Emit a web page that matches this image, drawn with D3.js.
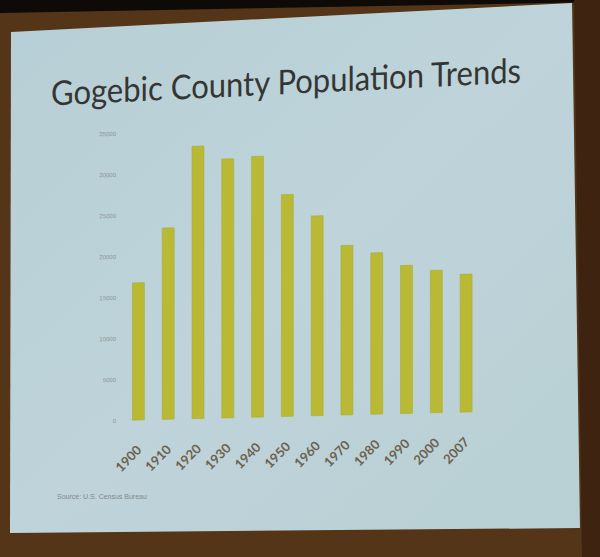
<!DOCTYPE html>
<html>
<head>
<meta charset="utf-8">
<script src="https://cdn.jsdelivr.net/npm/d3@7"></script>
<style>
  html, body { margin: 0; padding: 0; background: #553517; }
  svg { display: block; }
</style>
</head>
<body>
<svg id="chart" width="600" height="557"></svg>
<script>
// ---- data ----
const years = ["1900","1910","1920","1930","1940","1950","1960","1970","1980","1990","2000","2007"];
const population = [16738, 23333, 33225, 31577, 31797, 27053, 24370, 20676, 19686, 18052, 17370, 16800];
const yTicks = [0, 5000, 10000, 15000, 20000, 25000, 30000, 35000];
const titleText = "Gogebic County Population Trends";
const sourceText = "Source: U.S. Census Bureau";

const svg = d3.select("#chart");

// ---- photo surroundings ----
svg.append("rect").attr("x",0).attr("y",0).attr("width",600).attr("height",557).attr("fill","#553517");
svg.append("polygon").attr("points","0,0 600,0 600,2 0,13").attr("fill","#0e0a08");
svg.append("polygon").attr("points","574,0 600,0 600,557 582,557").attr("fill","#3e2311");

// slide
const defs = svg.append("defs");
const grad = defs.append("linearGradient").attr("id","slideGrad").attr("x1","0").attr("y1","0").attr("x2","1").attr("y2","1");
grad.append("stop").attr("offset","0%").attr("stop-color","#b6ced5");
grad.append("stop").attr("offset","50%").attr("stop-color","#bed4da");
grad.append("stop").attr("offset","100%").attr("stop-color","#b8cfd4");
svg.append("polygon").attr("points","11,32 572,3 580,528 10,533").attr("fill","url(#slideGrad)");

// ---- title ----
svg.append("text")
  .attr("x", 286).attr("y", 94)
  .attr("text-anchor","middle")
  .attr("font-family","Lato, 'Open Sans', sans-serif")
  .attr("font-size", 34)
  .attr("fill","#353633")
  .attr("textLength", 470)
  .attr("lengthAdjust","spacingAndGlyphs")
  .attr("transform","translate(286,94) skewY(-2.8) translate(-286,-94)")
  .text(titleText);

// ---- chart ----
const g = svg.append("g")
  .attr("transform","translate(138,420) skewY(-1.4) translate(-138,-420)");

const x = d3.scaleBand().domain(years).range([123.5, 481]).paddingInner(0.6).paddingOuter(0.3);
const y = d3.scaleLinear().domain([0, 35000]).range([420, 133]);

g.selectAll("rect.bar")
  .data(years.map((d,i) => ({year:d, value:population[i]})))
  .join("rect")
  .attr("class","bar")
  .attr("x", d => x(d.year))
  .attr("width", x.bandwidth())
  .attr("y", d => y(d.value))
  .attr("height", d => y(0) - y(d.value))
  .attr("fill","#b9b936")
  .attr("stroke","#abab2e")
  .attr("stroke-width",0.6);

// y axis
const yAxis = g.append("g")
  .attr("transform","translate(116,0)")
  .call(d3.axisLeft(y).tickValues(yTicks).tickSize(0).tickPadding(0).tickFormat(d3.format("d")));
yAxis.select(".domain").remove();
yAxis.selectAll("text")
  .attr("font-family","'Liberation Sans', Arial, sans-serif")
  .attr("font-size", 6)
  .attr("fill","#8a9396");

// x axis
const xAxis = g.append("g")
  .attr("transform","translate(0,420)")
  .call(d3.axisBottom(x).tickSize(0));
xAxis.select(".domain").remove();
xAxis.selectAll("text")
  .attr("x",0).attr("y",0).attr("dy",0)
  .attr("text-anchor","end")
  .attr("transform","translate(4,31) rotate(-45)")
  .attr("font-family","Lato, 'Open Sans', sans-serif")
  .attr("font-weight","bold")
  .attr("font-size", 13)
  .attr("fill","#6d6250");

// source
svg.append("text")
  .attr("x", 57).attr("y", 499)
  .attr("font-family","'Liberation Sans', Arial, sans-serif")
  .attr("font-size", 7)
  .attr("fill","#7f888b")
  .text(sourceText);
</script>
</body>
</html>
